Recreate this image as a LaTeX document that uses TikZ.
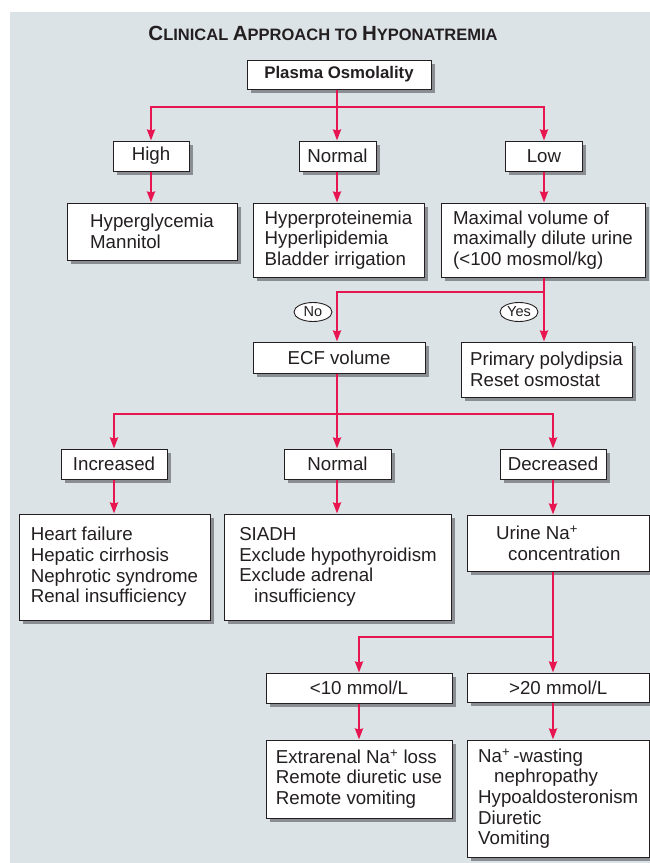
\documentclass[tikz,border=0pt]{standalone}
\usepackage{fontspec}
\setmainfont{Liberation Sans}
\usetikzlibrary{arrows.meta,shadows,shapes.geometric}
\definecolor{bg}{RGB}{220,227,230}
\definecolor{rd}{RGB}{232,22,80}
\definecolor{shd}{RGB}{138,142,146}
\definecolor{ink}{RGB}{35,31,32}
\newcommand\ttlbig{\fontsize{20.5}{24}\selectfont}
\newcommand\ttlsm{\fontsize{16.5}{20}\selectfont}
\begin{document}
\begin{tikzpicture}[x=1pt,y=-1pt,
  box/.style={draw=ink, line width=1pt, fill=white, inner sep=0pt, align=left, text=ink,
    font=\fontsize{18.7}{20.6}\selectfont,
    general shadow={shadow xshift=3.5pt, shadow yshift=-3.5pt, fill=shd}},
  oval/.style={ellipse, draw=ink, line width=0.9pt, fill=white, inner sep=0pt,
    minimum width=38pt, minimum height=19pt, text=ink, font=\fontsize{14.5}{14.5}\selectfont},
  ln/.style={draw=rd, line width=2pt},
  arr/.style={draw=rd, line width=2pt, -{Stealth[length=11pt,width=8pt,inset=1pt]}}]
\useasboundingbox (0,0) rectangle (650,863);
\fill[white] (0,0) rectangle (650,863);
\fill[bg] (10,12) rectangle (650,863);

\node[anchor=base, text=ink] (title) at (323,40.5) {\bfseries\ttlbig C\ttlsm LINICAL \ttlbig A\ttlsm PPROACH TO \ttlbig H\ttlsm YPONATREMIA};

\node[box, minimum width=184pt, minimum height=29pt, font=\bfseries\fontsize{16.8}{20}\selectfont] (po) at (339,74.5) {Plasma Osmolality};

\node[box, minimum width=76pt, minimum height=30pt] (high) at (151,156) {High};
\node[box, minimum width=77pt, minimum height=30pt] (norm1) at (337.5,156) {Normal};
\node[box, minimum width=77pt, minimum height=30pt] (low) at (544,156) {Low};

\node[box, minimum width=170pt, minimum height=57pt] (hyperg) at (152,231.5) {Hyperglycemia\\Mannitol};
\node[box, minimum width=171pt, minimum height=74pt] (hyperp) at (338.5,240) {Hyperproteinemia\\Hyperlipidemia\\Bladder irrigation};
\node[box, minimum width=204pt, minimum height=74pt] (maxv) at (543,240) {Maximal volume of\\maximally dilute urine\\(<100 mosmol/kg)};

\node[oval] (no) at (313,312) {No};
\node[oval] (yes) at (519,312) {Yes};

\node[box, minimum width=172pt, minimum height=31pt] (ecf) at (339,357.5) {ECF volume};
\node[box, minimum width=171pt, minimum height=55pt] (prim) at (546.5,369.5) {Primary polydipsia\\Reset osmostat};

\node[box, minimum width=106pt, minimum height=30pt] (inc) at (114,464) {Increased};
\node[box, minimum width=107pt, minimum height=30pt] (norm2) at (337.5,464) {Normal};
\node[box, minimum width=106pt, minimum height=30pt] (dec) at (553,464) {Decreased};

\node[box, minimum width=191pt, minimum height=106pt] (heart) at (114.5,567) {Heart failure\\Hepatic cirrhosis\\Nephrotic syndrome\\Renal insufficiency};
\node[box, minimum width=227pt, minimum height=106pt] (siadh) at (338,567) {SIADH\\Exclude hypothyroidism\\Exclude adrenal\\\hspace*{0.8em}insufficiency};
\node[box, minimum width=182.5pt, minimum height=56pt] (urine) at (558.25,543) {Urine Na\textsuperscript{+}\\\hspace*{0.65em}concentration};

\node[box, minimum width=186pt, minimum height=30pt] (lt10) at (359,688) {<10 mmol/L};
\node[box, minimum width=182.5pt, minimum height=29pt] (gt20) at (558.25,687.5) {>20 mmol/L};

\node[box, minimum width=186pt, minimum height=78pt] (extra) at (359,779) {Extrarenal Na\textsuperscript{+} loss\\Remote diuretic use\\Remote vomiting};
\node[box, minimum width=182.5pt, minimum height=117pt] (nawaste) at (558.25,798.5) {Na\textsuperscript{+}\,-wasting\\\hspace*{0.85em}nephropathy\\Hypoaldosteronism\\Diuretic\\Vomiting};

% connectors
\coordinate (j1) at (337,107);
\draw[ln] (po.south -| j1) -- (j1);
\draw[arr] (j1) -| (high.north);
\draw[arr] (j1) -- (norm1.north -| j1);
\draw[arr] (j1) -| (low.north);
\draw[arr] (high.south) -- (hyperg.north -| high.south);
\draw[arr] (norm1.south -| j1) -- (hyperp.north -| j1);
\draw[arr] (low.south) -- (maxv.north -| low.south);

\coordinate (j2) at (544,292);
\draw[ln] (maxv.south -| j2) -- (j2);
\draw[arr] (j2) -| (ecf.north -| j1);
\draw[arr] (j2) -- (prim.north -| j2);

\coordinate (j3) at (337,414);
\draw[ln] (ecf.south -| j3) -- (j3);
\draw[arr] (j3) -| (inc.north);
\draw[arr] (j3) -- (norm2.north -| j3);
\draw[arr] (j3) -| (dec.north);
\draw[arr] (inc.south) -- (heart.north -| inc.south);
\draw[arr] (norm2.south -| j3) -- (siadh.north -| j3);
\draw[arr] (dec.south) -- (urine.north -| dec.south);

\coordinate (j4) at (553,637);
\draw[ln] (urine.south -| j4) -- (j4);
\draw[arr] (j4) -| (lt10.north);
\draw[arr] (j4) -- (gt20.north -| j4);
\draw[arr] (lt10.south) -- (extra.north -| lt10.south);
\draw[arr] (gt20.south -| j4) -- (nawaste.north -| j4);
\end{tikzpicture}
\end{document}
